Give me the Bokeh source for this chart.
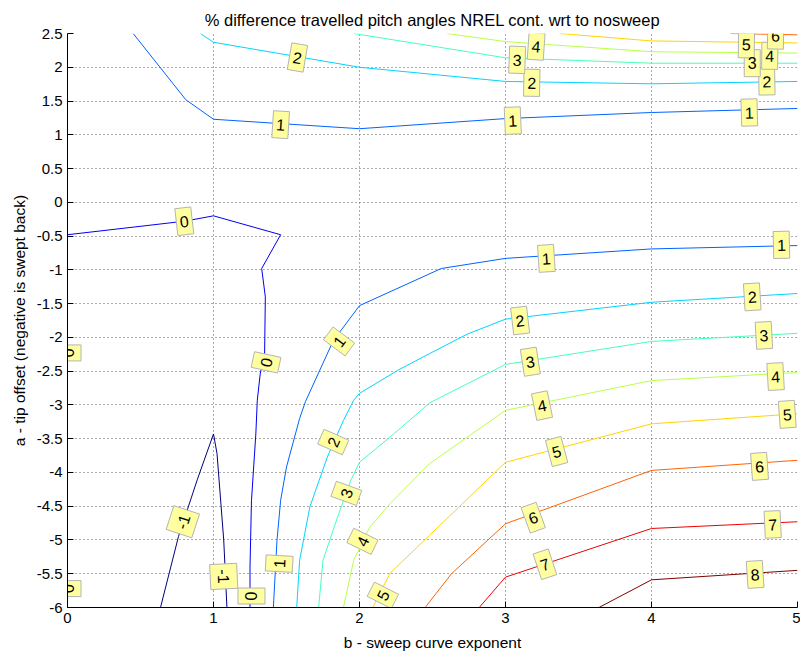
import math
from bokeh.plotting import figure
from bokeh.models import FixedTicker, Range1d, ColumnDataSource
from bokeh.embed import file_html
from bokeh.resources import INLINE
from bokeh.core.properties import value

# --- contour levels (% difference) ---
levels = [-1, 0, 1, 2, 3, 4, 5, 6, 7, 8]

# --- contour polylines: b = sweep curve exponent, a = tip offset ---
c_m1_b = [0.637, 0.76, 0.89, 1.0, 1.024, 1.07, 1.092]
c_m1_a = [-6.0, -4.95, -4.1, -3.43, -3.72, -5.0, -6.0]

c_0a_b = [0.0, 0.8, 1.0, 1.46, 1.33, 1.355, 1.35, 1.32, 1.30, 1.29, 1.26, 1.25, 1.25]
c_0a_a = [-0.48, -0.28, -0.2, -0.48, -0.98, -1.4, -2.24, -2.54, -2.93, -3.43, -4.42, -5.4, -6.0]
c_0b_b = [0.0, 0.0]
c_0b_a = [-0.48, -6.0]

c_1a_b = [0.45, 0.81, 1.0, 2.0, 3.0, 4.0, 5.0]
c_1a_a = [2.5, 1.52, 1.23, 1.09, 1.24, 1.33, 1.39]
c_1b_b = [1.41, 1.435, 1.46, 1.50, 1.59, 1.63, 1.82, 2.0, 2.56, 3.0, 4.0, 5.0]
c_1b_a = [-6.0, -5.0, -4.41, -3.92, -3.2, -2.95, -2.05, -1.53, -0.98, -0.83, -0.69, -0.64]

c_2a_b = [0.91, 1.0, 2.0, 3.0, 4.0, 5.0]
c_2a_a = [2.5, 2.37, 2.0, 1.79, 1.755, 1.79]
c_2b_b = [1.57, 1.59, 1.66, 1.78, 1.89, 1.96, 2.0, 2.26, 2.48, 2.74, 3.0, 4.0, 5.0]
c_2b_a = [-6.0, -5.3, -4.51, -3.77, -3.23, -2.93, -2.83, -2.49, -2.24, -1.95, -1.73, -1.48, -1.35]

c_3a_b = [1.96, 3.0, 4.0, 5.0]
c_3a_a = [2.5, 2.14, 2.06, 2.06]
c_3b_b = [1.72, 1.75, 1.85, 1.94, 2.0, 2.24, 2.48, 3.0, 4.0, 5.0]
c_3b_a = [-6.0, -5.3, -4.66, -4.12, -3.85, -3.42, -2.97, -2.4, -2.06, -1.94]

c_4a_b = [2.6, 3.0, 4.0, 5.0]
c_4a_a = [2.5, 2.38, 2.23, 2.21]
c_4b_b = [1.89, 1.96, 2.07, 2.21, 2.48, 3.0, 4.0, 5.0]
c_4b_a = [-6.0, -5.3, -4.81, -4.46, -3.87, -3.08, -2.64, -2.52]

c_5a_b = [3.37, 4.0, 5.0]
c_5a_a = [2.5, 2.39, 2.36]
c_5b_b = [2.09, 2.21, 2.48, 3.0, 4.0, 5.0]
c_5b_a = [-6.0, -5.49, -4.93, -3.85, -3.28, -3.13]

c_6a_b = [4.54, 5.0]
c_6a_a = [2.5, 2.48]
c_6b_b = [2.45, 2.63, 3.0, 4.0, 5.0]
c_6b_a = [-6.0, -5.5, -4.76, -3.97, -3.82]

c_7_b = [2.82, 3.0, 4.0, 5.0]
c_7_a = [-6.0, -5.55, -4.83, -4.73]

c_8_b = [3.64, 4.0, 5.0]
c_8_a = [-6.0, -5.59, -5.45]

# --- inline contour labels ---
label_level = [1, 1, 1, 2, 2, 2, 3, 3, 4, 4, 5, 6,
               0, 0, 1, 1, 1, 2, 2, 3, 3, 4, 4, 5, 5, 6, 6, 7, 7, 8,
               2, 3, 4, 5, 1, 0, -1, -1, 0, 0]
label_b = [1.46, 3.05, 4.67, 1.575, 3.18, 4.79, 3.08, 4.69, 3.21, 4.81, 4.65, 4.85,
           0.80, 1.36, 1.86, 3.28, 4.89, 3.10, 4.69, 3.17, 4.77, 3.25, 4.85, 3.35, 4.93,
           3.19, 4.74, 3.27, 4.83, 4.71,
           1.82, 1.91, 2.02, 2.16, 1.45, 1.26, 0.79, 1.07, 0.0, 0.0]
label_a = [1.15, 1.21, 1.33, 2.145, 1.77, 1.79, 2.11, 2.06, 2.31, 2.17, 2.34, 2.47,
           -0.28, -2.37, -2.06, -0.83, -0.63, -1.75, -1.40, -2.36, -1.97, -3.01, -2.58,
           -3.69, -3.14, -4.67, -3.91, -5.36, -4.77, -5.51,
           -3.55, -4.31, -5.02, -5.82, -5.35, -5.83, -4.73, -5.54, -2.23, -5.72]

B_MIN, B_MAX = 0.0, 5.0
A_MIN, A_MAX = -6.0, 2.5
FRAME_W, FRAME_H = 730, 574
FONT = "Liberation Sans"


def jet(t):
    t = min(max(t, 0.0), 1.0)

    def ch(v):
        return int(round(255 * min(max(v, 0.0), 1.0)))
    r = 1.5 - abs(4 * t - 3)
    g = 1.5 - abs(4 * t - 2)
    b = 1.5 - abs(4 * t - 1)
    return "#%02x%02x%02x" % (ch(r), ch(g), ch(b))


def level_color(lv):
    return jet((lv - levels[0]) / (levels[-1] - levels[0]))


pieces = [
    (-1, c_m1_b, c_m1_a),
    (0, c_0a_b, c_0a_a), (0, c_0b_b, c_0b_a),
    (1, c_1a_b, c_1a_a), (1, c_1b_b, c_1b_a),
    (2, c_2a_b, c_2a_a), (2, c_2b_b, c_2b_a),
    (3, c_3a_b, c_3a_a), (3, c_3b_b, c_3b_a),
    (4, c_4a_b, c_4a_a), (4, c_4b_b, c_4b_a),
    (5, c_5a_b, c_5a_a), (5, c_5b_b, c_5b_a),
    (6, c_6a_b, c_6a_a), (6, c_6b_b, c_6b_a),
    (7, c_7_b, c_7_a),
    (8, c_8_b, c_8_a),
]

sx = FRAME_W / (B_MAX - B_MIN)
sy = FRAME_H / (A_MAX - A_MIN)


def label_angle(lv, b, a):
    """Screen-space direction of the nearest segment of the same level."""
    best = None
    px, py = b * sx, a * sy
    for plv, xs, ys in pieces:
        if plv != lv:
            continue
        for i in range(len(xs) - 1):
            x1, y1 = xs[i] * sx, ys[i] * sy
            x2, y2 = xs[i + 1] * sx, ys[i + 1] * sy
            dx, dy = x2 - x1, y2 - y1
            L2 = dx * dx + dy * dy
            t = 0.0 if L2 == 0 else max(0.0, min(1.0, ((px - x1) * dx + (py - y1) * dy) / L2))
            d = math.hypot(px - (x1 + t * dx), py - (y1 + t * dy))
            if best is None or d < best[0]:
                best = (d, math.atan2(dy, dx))
    ang = best[1]
    while ang > math.pi / 2:
        ang -= math.pi
    while ang <= -math.pi / 2:
        ang += math.pi
    return ang


p = figure(width=800, height=657, output_backend="svg", toolbar_location=None,
           x_range=Range1d(B_MIN, B_MAX), y_range=Range1d(A_MIN, A_MAX),
           min_border_left=67, min_border_right=3, min_border_top=33, min_border_bottom=50,
           title="% difference travelled pitch angles NREL cont. wrt to nosweep")
p.background_fill_color = "white"
p.border_fill_color = "white"
p.outline_line_color = None

p.title.align = "center"
p.title.text_font = FONT
p.title.text_font_size = "16.5px"
p.title.text_font_style = "normal"
p.title.text_color = "black"
p.title.standoff = 10

xt = [0, 1, 2, 3, 4, 5]
yt = [A_MIN + 0.5 * i for i in range(int((A_MAX - A_MIN) / 0.5) + 1)]
p.xaxis.ticker = FixedTicker(ticks=xt)
p.yaxis.ticker = FixedTicker(ticks=yt)
p.yaxis.major_label_overrides = {t: ("%g" % t) for t in yt}
p.xaxis.major_label_overrides = {t: ("%g" % t) for t in xt}
p.xaxis.axis_label = "b - sweep curve exponent"
p.yaxis.axis_label = "a - tip offset (negative is swept back)"
for ax in (p.xaxis, p.yaxis):
    ax.axis_label_text_font = FONT
    ax.axis_label_text_font_size = "15.5px"
    ax.axis_label_text_font_style = "normal"
    ax.axis_label_text_color = "black"
    ax.major_label_text_font = FONT
    ax.major_label_text_font_size = "15px"
    ax.major_label_text_color = "black"
    ax.axis_line_color = "black"
    ax.major_tick_line_color = "black"
    ax.major_tick_in = 6
    ax.major_tick_out = 0
    ax.minor_tick_line_color = None
p.yaxis.axis_label_standoff = 6
p.xaxis.axis_label_standoff = 8

for g in (p.xgrid, p.ygrid):
    g.grid_line_color = "#555555"
    g.grid_line_dash = "1 3"
    g.grid_line_width = 1

# contour lines
for lv, xs, ys in pieces:
    p.line(xs, ys, line_color=level_color(lv), line_width=1)

# label boxes and texts, rotated along the contour
txt = [str(lv) for lv in label_level]
angles = [label_angle(lv, b, a) for lv, b, a in zip(label_level, label_b, label_a)]
widths = [9 * len(t) + 7 for t in txt]
src = ColumnDataSource(dict(x=label_b, y=label_a, text=txt, angle=angles, w=widths))
p.rect(x="x", y="y", width="w", height=27, width_units="screen", height_units="screen",
       angle="angle", source=src, fill_color="#ffffa0", line_color="#b4b4b4", line_width=1)
p.text(x="x", y="y", text="text", angle="angle", source=src,
       text_font=value(FONT), text_font_size="16px",
       text_align="center", text_baseline="middle", text_color="black")

open("out.html", "w").write(file_html(p, INLINE))
